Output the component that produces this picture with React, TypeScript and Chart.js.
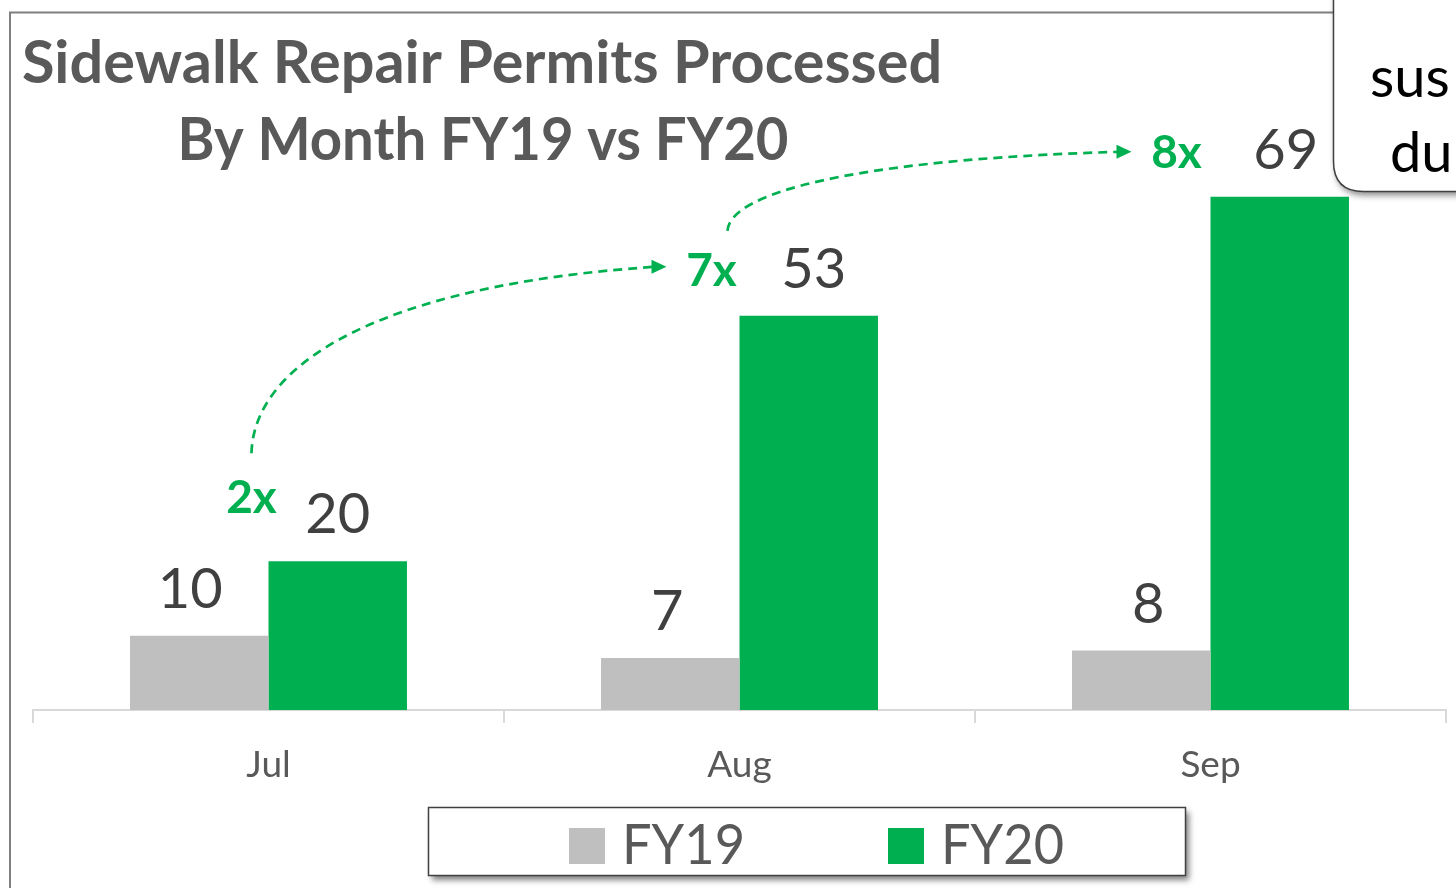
import React, { useEffect, useRef } from "react";
import { Chart, registerables } from "chart.js";

Chart.register(...registerables);

const categories = ["Jul", "Aug", "Sep"];
const seriesLabels = ["FY19", "FY20"];
const fy19Values = [10, 7, 8];
const fy20Values = [20, 53, 69];
const multiplierLabels = ["2x", "7x", "8x"];
const titleLines = ["Sidewalk Repair Permits Processed", "By Month FY19 vs FY20"];
const calloutLines = ["sus", "du"];

// layout/style (not data)
const W = 1456;
const H = 888;
const FONT = "Lato, 'Open Sans', sans-serif";
const GRAY = "#bfbfbf";
const GREEN = "#00b050";
const multDx = [17, 28, 34];
const multDy = [-20, -2, -1];
const valueDx = [[-9, 0], [-3, 5], [7, 6]];

const overlayPlugin = {
  id: "overlay",
  afterDraw(chart: any) {
    const ctx: CanvasRenderingContext2D = chart.ctx;
    const metas = [chart.getDatasetMeta(0), chart.getDatasetMeta(1)];

    // frame
    ctx.save();
    ctx.strokeStyle = "#7f7f7f";
    ctx.lineWidth = 2;
    ctx.beginPath();
    ctx.moveTo(10, H + 2);
    ctx.lineTo(10, 12.5);
    ctx.lineTo(1345, 12.5);
    ctx.stroke();
    ctx.restore();

    // title
    ctx.save();
    ctx.fillStyle = "#595959";
    ctx.textAlign = "center";
    ctx.textBaseline = "alphabetic";
    ctx.font = `bold 60px ${FONT}`;
    const tw = ctx.measureText(titleLines[0]).width;
    const ts = (60 * 920) / tw;
    ctx.font = `bold ${ts.toFixed(1)}px ${FONT}`;
    ctx.fillText(titleLines[0], 482, 83);
    ctx.fillText(titleLines[1], 483, 160, 611);
    ctx.restore();

    // value labels
    ctx.save();
    ctx.font = `56px ${FONT}`;
    ctx.fillStyle = "#404040";
    ctx.textAlign = "center";
    ctx.textBaseline = "alphabetic";
    metas.forEach((meta: any, di: number) => {
      meta.data.forEach((bar: any, i: number) => {
        const v = chart.data.datasets[di].data[i];
        ctx.fillText(String(v), bar.x + valueDx[i][di], bar.y - 28);
      });
    });
    ctx.restore();

    // multiplier labels
    const mPos = metas[1].data.map((bar: any, i: number) => ({
      x: bar.x - bar.width / 2 - multDx[i],
      y: bar.y - 28 + multDy[i],
    }));
    ctx.save();
    ctx.font = `bold 46px ${FONT}`;
    ctx.fillStyle = GREEN;
    ctx.textAlign = "center";
    mPos.forEach((p: any, i: number) => ctx.fillText(multiplierLabels[i], p.x, p.y));
    ctx.restore();

    // arrows
    const starts = [
      { x: mPos[0].x, y: mPos[0].y - 60 },
      { x: mPos[1].x + 16, y: mPos[1].y - 55 },
    ];
    const ends = [
      { x: mPos[1].x - 45, y: mPos[1].y - 19 },
      { x: mPos[2].x - 45, y: mPos[2].y - 16 },
    ];
    ctx.save();
    ctx.strokeStyle = GREEN;
    ctx.fillStyle = GREEN;
    ctx.lineWidth = 2.7;
    for (let i = 0; i < 2; i++) {
      const s = starts[i];
      const e = ends[i];
      const dx = e.x - s.x;
      const dy = s.y - e.y;
      ctx.setLineDash([9, 6]);
      ctx.beginPath();
      ctx.moveTo(s.x, s.y);
      ctx.bezierCurveTo(s.x + 2, s.y - 0.47 * dy, s.x + 0.3 * dx, e.y + 0.1 * dy, e.x - 12, e.y);
      ctx.stroke();
      ctx.setLineDash([]);
      ctx.beginPath();
      ctx.moveTo(e.x, e.y);
      ctx.lineTo(e.x - 15, e.y - 7);
      ctx.lineTo(e.x - 15, e.y + 7);
      ctx.closePath();
      ctx.fill();
    }
    ctx.restore();

    // callout box
    ctx.save();
    const cx = 1333.5;
    const cb = 191.5;
    const r = 30;
    ctx.beginPath();
    ctx.moveTo(cx, -10);
    ctx.lineTo(cx, cb - r);
    ctx.quadraticCurveTo(cx, cb, cx + r, cb);
    ctx.lineTo(W + 20, cb);
    ctx.lineTo(W + 20, -10);
    ctx.closePath();
    ctx.shadowColor = "rgba(0,0,0,0.45)";
    ctx.shadowBlur = 6;
    ctx.shadowOffsetX = 2;
    ctx.shadowOffsetY = 4;
    ctx.fillStyle = "#ffffff";
    ctx.fill();
    ctx.shadowColor = "transparent";
    ctx.strokeStyle = "#404040";
    ctx.lineWidth = 1.5;
    ctx.stroke();
    ctx.fillStyle = "#000000";
    ctx.font = `56px ${FONT}`;
    ctx.textAlign = "left";
    ctx.fillText(calloutLines[0], 1370, 97);
    ctx.fillText(calloutLines[1], 1390, 172);
    ctx.restore();

    // legend box
    ctx.save();
    const lx = 428.5, ly = 807.5, lw = 757, lh = 68;
    ctx.shadowColor = "rgba(0,0,0,0.5)";
    ctx.shadowBlur = 6;
    ctx.shadowOffsetX = 3;
    ctx.shadowOffsetY = 4;
    ctx.fillStyle = "#ffffff";
    ctx.fillRect(lx, ly, lw, lh);
    ctx.shadowColor = "transparent";
    ctx.strokeStyle = "#404040";
    ctx.lineWidth = 1.5;
    ctx.strokeRect(lx, ly, lw, lh);
    const itemX = [569, 888];
    ctx.font = `56px ${FONT}`;
    ctx.textAlign = "left";
    chart.data.datasets.forEach((ds: any, i: number) => {
      ctx.fillStyle = ds.backgroundColor;
      ctx.fillRect(itemX[i], 828, 36, 36);
      ctx.fillStyle = "#595959";
      ctx.fillText(ds.label, itemX[i] + 53, 864, 123);
    });
    ctx.restore();
  },
};

export default function App() {
  const ref = useRef<HTMLCanvasElement | null>(null);
  useEffect(() => {
    if (!ref.current) return;
    const chart = new Chart(ref.current, {
      type: "bar",
      data: {
        labels: categories,
        datasets: [
          { label: seriesLabels[0], data: fy19Values, backgroundColor: GRAY },
          { label: seriesLabels[1], data: fy20Values, backgroundColor: GREEN },
        ],
      },
      options: {
        animation: false,
        responsive: false,
        maintainAspectRatio: false,
        devicePixelRatio: 1,
        layout: { padding: { left: 33, right: 10, top: 115, bottom: 0 } },
        datasets: { bar: { categoryPercentage: 0.588, barPercentage: 1 } },
        plugins: { legend: { display: false }, tooltip: { enabled: false }, title: { display: false } },
        scales: {
          x: {
            grid: {
              display: true,
              drawOnChartArea: false,
              drawTicks: true,
              tickLength: 13,
              color: "#d9d9d9",
              lineWidth: 2,
              offset: true,
            },
            border: { display: true, color: "#d9d9d9", width: 2 },
            ticks: { color: "#595959", font: { family: FONT, size: 37 }, padding: 20 },
            afterFit: (scale: any) => {
              scale.height = H - 710;
            },
          },
          y: { display: false, min: 0, max: 80 },
        },
      },
      plugins: [overlayPlugin],
    } as any);
    return () => chart.destroy();
  }, []);
  return (
    <div style={{ position: "fixed", left: 0, top: 0, width: W, height: H, background: "#fff" }}>
      <canvas ref={ref} width={W} height={H} style={{ display: "block" }} />
    </div>
  );
}
